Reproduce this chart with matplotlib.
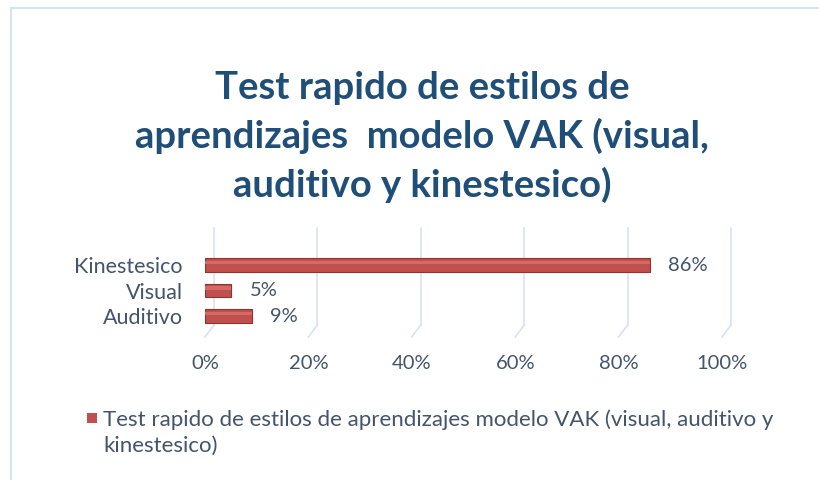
import matplotlib
matplotlib.use("Agg")
import matplotlib.pyplot as plt
from matplotlib.patches import Rectangle
from matplotlib.lines import Line2D

categories = ["Auditivo", "Visual", "Kinestesico"]
values = [0.09, 0.05, 0.86]
value_labels = ["9%", "5%", "86%"]
xticks = [0, 0.2, 0.4, 0.6, 0.8, 1.0]
xtick_labels = ["0%", "20%", "40%", "60%", "80%", "100%"]
title = "Test rapido de estilos de\naprendizajes  modelo VAK (visual,\nauditivo y kinestesico)"
legend_text = "Test rapido de estilos de aprendizajes modelo VAK (visual, auditivo y\nkinestesico)"

W, H = 819, 480
plt.rcParams['font.family'] = ['Lato', 'DejaVu Sans']
fig = plt.figure(figsize=(W / 100, H / 100), dpi=100)
fig.patch.set_facecolor("white")

# chart border
fig.add_artist(Rectangle((11 / W, -0.1), 1.2, 1 - 8 / H + 0.1, transform=fig.transFigure,
                         fill=False, edgecolor="#D5E2F1", linewidth=1.5))

x0, x1 = 205, 722
y_top, y_bot = 228, 337
ax = fig.add_axes([x0 / W, 1 - y_bot / H, (x1 - x0) / W, (y_bot - y_top) / H])
ax.set_xlim(0, 1)
ypos = list(range(len(categories)))
ax.set_ylim(-0.82, 3.45)
for s in ax.spines.values():
    s.set_visible(False)

# 3D-like gridlines
px = 1.0 / (x1 - x0)
grid_c = "#D9E2F3"
foot = (y_bot - 325) / (y_bot - y_top)
for t in xticks:
    ax.add_line(Line2D([t + 9 * px, t + 9 * px], [1.0, foot], transform=ax.get_xaxis_transform(),
                       color=grid_c, lw=1.2, zorder=0, clip_on=False))
    ax.add_line(Line2D([t + 9 * px, t], [foot, 0.0], transform=ax.get_xaxis_transform(),
                       color=grid_c, lw=1.2, zorder=0, clip_on=False))

bar_c = "#C0504D"
ax.barh(ypos, values, height=0.52, color=bar_c, edgecolor="#8E3330", linewidth=0.8, zorder=3)
ax.barh([p + 0.10 for p in ypos], values, height=0.13, color="#D46A66", linewidth=0, zorder=4)

text_c = "#44546A"
for p, v, lab in zip(ypos, values, value_labels):
    ax.text(v + 0.036, p, lab, va="center", ha="left", fontsize=14.5, color=text_c)

ax.set_yticks(ypos)
ax.set_yticklabels(categories, fontsize=15.5, color=text_c)
ax.set_xticks(xticks)
ax.set_xticklabels(xtick_labels, fontsize=14.5, color=text_c)
ax.tick_params(axis="both", length=0)
ax.tick_params(axis="y", pad=16)
ax.tick_params(axis="x", pad=13)

fig.text(422 / W, 1 - 137 / H, title, ha="center", va="center", multialignment="center",
         fontsize=27.5, fontweight="bold", color="#1F4E79", linespacing=1.43)

fig.add_artist(Rectangle((87 / W, 1 - 423 / H), 10 / W, 10 / H, transform=fig.transFigure,
                         facecolor=bar_c, edgecolor="none"))
fig.text(103 / W, 1 - 433 / H, legend_text, ha="left", va="center", fontsize=16,
         color=text_c, linespacing=1.38)

fig.savefig("out.png", dpi=100, facecolor="white")
